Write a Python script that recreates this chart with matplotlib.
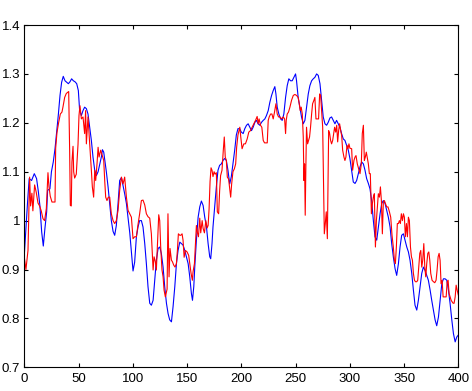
import matplotlib
matplotlib.use("Agg")
import matplotlib.pyplot as plt

# ---- data ----
blue_x = [0, 3, 4.5, 6.7, 9.2, 11.3, 12.9, 14.4, 16, 17.5, 19, 20.6, 21.5, 23.6, 25, 26.7, 28.3, 29.8,
          31.3, 32.9, 34.4, 35.9, 37.5, 39, 40.6, 42.1, 43.6, 45.2, 46.7, 48.3, 49.8,
          51, 52.6, 54.1, 55.6, 57.2, 58.7, 60.3, 61.8, 63.3, 64.9, 66.4, 68, 69.5, 71, 72, 73.2,
          74.1, 75.6, 77.2, 78.7, 80.2, 81.8, 83.3, 84.8, 86.4, 87.9, 89.5, 91, 92.5, 94.1, 95.6,
          97.2, 98.7, 100.2, 101.7,
          103.3, 104.8, 106.3, 107.9, 109.4, 111, 112.5, 114, 115.6, 117.1, 118.7, 120.2, 121.7,
          123.3, 124.8, 126.3, 127.9, 129.4, 131, 132.5, 134, 135.6, 137.1, 138.7, 140.2, 141.7,
          143.3, 144.8, 146.3, 147.9, 149.4, 151, 152.5, 154, 155, 156.2, 157.1, 158.6, 160.2,
          161.7, 163.2, 164.8, 166.3, 167.9, 169.4, 170.9, 171.8, 173, 173.9, 175.4, 177, 178.5,
          180, 181.6, 183.1, 184.6, 186.2, 187.7, 189.3, 190.8, 192.3, 193.9, 195.4, 196.9,
          198.5, 200, 201.7, 203.2, 204.8, 206.3, 207.8, 209.4, 210.9, 212.5, 214, 215.5, 217.1,
          218.6, 220.2, 221.7, 223.2, 224.8, 226.3, 227.9, 229.4, 230.9, 231.9, 233.1, 234.6,
          236.2, 237.7, 239.2, 240.8, 242.3, 243.8, 245.4, 246.9, 248.4, 250, 250.9, 252.4, 254,
          255.5, 257.1, 258.6, 260.1, 261.7, 263.2, 264.8, 266.3, 267.8, 269.4, 270.9, 272.5, 274,
          275.5, 277.1, 278.6, 280.1, 281.7, 283.2, 284.8, 286.3, 287.8, 289.4, 290.9, 292.4, 294,
          295.5, 297.1, 298.6,
          300.1, 301.7, 303.2, 304.8, 306.3, 307.8, 309.4, 310.9, 312.5, 314, 315.5, 317.1, 318.6,
          320.1, 321.7, 323.2, 324.8, 326.3, 327.9, 329.4, 330.9, 332.5, 334, 335.5, 337.1, 338.6,
          340.1, 341.7, 343.2, 344.8, 346.3, 347.8, 349.4, 350.9, 352.5, 354, 355.5, 357.1, 358.6,
          360.1, 361.7, 363.2, 364.8, 366.3, 367.8, 369.4, 370.9, 372.4, 374, 375.5, 377.1, 378.6,
          380.1, 381.7, 383.2, 384.8, 386.3, 387.8, 389.4, 390.9, 392.4, 394, 395.5, 397.1, 398.6,
          400]
blue_y = [0.93, 1.038, 1.086, 1.082, 1.096, 1.086, 1.06, 1.03, 0.977, 0.948, 0.984, 1.018, 1.062, 1.065,
          1.1, 1.12, 1.147, 1.18, 1.215, 1.256, 1.283, 1.295, 1.286, 1.283, 1.28, 1.284, 1.29, 1.286,
          1.284, 1.28, 1.266,
          1.225, 1.215, 1.225, 1.232, 1.229, 1.218, 1.19, 1.164, 1.13, 1.103, 1.092, 1.1, 1.115, 1.13,
          1.145, 1.14, 1.125, 1.1, 1.069, 1.035, 1.0, 0.978, 0.97, 0.99, 1.035, 1.082, 1.088, 1.072,
          1.055, 1.035, 1.005, 0.975, 0.935, 0.897, 0.915,
          0.967, 0.987, 1.0, 1.0, 0.987, 0.953, 0.912, 0.865, 0.831, 0.827, 0.837, 0.878, 0.919,
          0.943, 0.946, 0.933, 0.905, 0.865, 0.831, 0.81, 0.797, 0.793, 0.824, 0.865, 0.912, 0.939,
          0.956, 0.953, 0.95, 0.939, 0.926, 0.912, 0.885, 0.851, 0.837, 0.865, 0.905, 0.96, 1.007,
          1.028, 1.04, 1.031, 1.007, 0.987, 0.953, 0.926, 0.922, 0.953, 0.987, 1.028, 1.069, 1.103,
          1.113, 1.116, 1.123, 1.127, 1.123, 1.103, 1.075, 1.09, 1.116, 1.144, 1.175, 1.188,
          1.188, 1.181, 1.178, 1.188, 1.195, 1.198, 1.191, 1.184, 1.191, 1.201, 1.205, 1.198, 1.195,
          1.201, 1.205, 1.208, 1.215, 1.225, 1.242, 1.256, 1.266, 1.274, 1.259, 1.232, 1.218,
          1.208, 1.205, 1.218, 1.252, 1.276, 1.29, 1.286, 1.286, 1.293, 1.3, 1.286, 1.252, 1.232,
          1.212, 1.198, 1.205, 1.232, 1.259, 1.276, 1.286, 1.29, 1.293, 1.3, 1.297, 1.28, 1.246,
          1.212, 1.198, 1.195, 1.201, 1.21, 1.212, 1.205, 1.198, 1.205, 1.198, 1.191, 1.178, 1.167,
          1.164, 1.154, 1.144,
          1.127, 1.103, 1.079, 1.076, 1.082, 1.096, 1.11, 1.12, 1.116, 1.103, 1.086, 1.076, 1.065,
          1.041, 1.0, 0.967, 0.96, 0.987, 1.014, 1.035, 1.041, 1.035, 1.021, 1.007, 0.987, 0.953,
          0.926, 0.902, 0.888, 0.912, 0.946, 0.97, 0.973, 0.96, 0.946, 0.936, 0.919, 0.892, 0.858,
          0.827, 0.817, 0.837, 0.865, 0.892, 0.905, 0.898, 0.888, 0.878, 0.858, 0.837, 0.817, 0.797,
          0.785, 0.803, 0.837, 0.871, 0.881, 0.881, 0.878, 0.858, 0.831, 0.797, 0.769, 0.752, 0.762,
          0.766]

red_x = [0, 1.5, 3.4, 4.9, 5.8, 7, 7.9, 9.5, 11, 12.6, 14.1, 15.6, 17.2, 18.7, 20.3, 21.8, 22.7,
         23.9, 25.5, 27, 28.3, 28.9, 30.1, 31.6, 33.2, 34.7, 35.6, 37.2, 38.7, 40.9, 41.8, 42.4,
         43.3, 43.9, 44.9, 45.5, 46.4, 47.9, 49.5, 50.4, 51.3, 52.6, 54.1, 55.6, 56.5, 57.2, 58.7,
         60.3, 61.8, 62.7, 63.9, 64.9, 65.8, 67, 68, 68.9, 70.4, 71.9, 73.2, 74.1, 75, 76.2, 77.4,
         78.7, 80.2, 81.8, 83.3, 84.8, 86.4, 87.9, 89.5, 91, 92.5, 94.1, 95.6,
         97.1, 98.7, 100.2, 101.7, 103.3, 104.8, 106.3, 107.9, 109.4, 111, 112.5, 114, 115.6,
         117.1, 118, 118.7, 119.6, 120.8, 121.7, 122.6, 123.9, 124.8, 125.7, 126.9, 127.9, 128.8,
         130, 131.6, 132.4, 133.4, 134.3, 135.6, 136.5, 137.7, 138.9, 140.2, 141.1, 142, 143.3,
         144.2, 145.4, 146.3, 147.3, 148.5, 150, 151.5, 152.5, 153.7, 154.9, 155.5, 156.8, 157.7,
         158.6, 159.6, 160.5, 161.7, 162.6, 163.9, 164.8, 166, 167.3, 168.5, 169.4, 170.3, 171.2,
         172.1, 173, 173.9, 174.9, 175.8, 177, 177.9, 179.1, 180, 180.9, 182.2, 183.4, 184.3,
         185.2, 186.2, 187.1, 188.3, 189.3, 190.2, 191.1, 192.3, 193.6, 194.8, 195.7, 196.9,
         198.6, 199.5, 200.7, 202.3, 203.8, 205.4, 206.9, 208.4, 210, 211.5, 213.1, 214.6, 215.5,
         216.4, 217.7, 218.9, 220.2, 221.4, 222.6, 223.9, 224.8, 225.7, 227, 228.2, 229.4, 230.6,
         231.9, 233.1, 234.3, 235.6, 237.1, 238.7, 239.9, 240.8, 241.4, 242.3, 243.5, 244.8, 246.3,
         247.9, 249.4, 250.9, 252.4, 253.4, 254.3, 255.2, 256.2, 257.1, 257.7, 258.3, 258.9, 259.5,
         260.1, 261.1, 262, 262.9, 263.8, 264.8, 265.7, 266.9, 267.8, 268.8, 270, 271.2, 272.2,
         273.1, 274, 275, 275.9, 276.5, 277.4, 278.3, 279.3, 279.9, 280.5, 281.4, 282.3, 283.2,
         284.2, 285.1, 286, 287, 287.9, 288.8, 289.7, 290.6, 291.6, 292.5, 293.4, 294.6, 295.5,
         296.4, 297.4, 298.3, 299.2,
         300.1, 301.7, 302.6, 303.8, 304.8, 305.7, 306.9, 308.2, 309.4, 310.6, 311.5, 312.5, 313.4,
         314.3, 315.2, 316.2, 317.1, 318, 318.9, 319.9, 320.8, 321.7, 322.6, 323.6, 324.5, 325.4,
         326.3, 327.3, 328.2, 329.1, 330, 330.9, 331.9, 332.8, 334, 335.2, 336.5, 337.7, 338.9,
         340.1, 341.1, 342, 342.9, 343.8, 344.8, 345.7, 346.6, 347.5, 348.5, 349.4, 350.3, 351.2,
         352.2, 353.1, 354, 354.9, 355.9, 356.8, 357.7, 358.6, 359.6, 360.5, 361.7, 362.6, 363.5,
         364.5, 365.4, 366.3, 367.2, 368.2, 369.1, 370, 370.9, 371.9, 372.8, 373.7, 374.6, 375.8,
         377.1, 378.3, 379.5, 380.4, 381.4, 382.3, 383.2, 384.1, 385.1, 386, 386.9, 387.8, 388.8,
         389.7, 390.6, 391.5, 392.4, 393.4, 394.3, 395.2, 396.1, 397.1, 398, 398.9, 400]
red_y = [0.925, 0.9, 0.939, 1.089, 1.03, 1.056, 1.02, 1.073, 1.058, 1.036, 1.03, 1.02, 1.004, 1.0,
         1.025, 1.098, 1.07, 1.05, 1.038, 1.038, 1.038, 1.148, 1.18, 1.2, 1.218, 1.222, 1.232, 1.252,
         1.26, 1.264, 1.142, 1.031, 1.03, 1.12, 1.152, 1.1, 1.087, 1.095, 1.156, 1.215, 1.235, 1.208,
         1.212, 1.178, 1.225, 1.157, 1.212, 1.157, 1.103, 1.069, 1.048, 1.103, 1.082, 1.116, 1.15,
         1.13, 1.144, 1.133, 1.123, 1.082, 1.048, 1.041, 1.048, 1.048, 1.014, 1.0, 0.994, 1.0, 1.021,
         1.062, 1.089, 1.075, 1.089, 1.048, 1.021,
         1.014, 1.007, 0.963, 0.967, 0.967, 0.992, 1.014, 1.041, 1.042, 1.032, 1.014, 1.008, 1.005,
         0.973, 0.933, 0.899, 0.926, 0.916, 0.899, 0.946, 1.012, 1.0, 0.946, 0.899, 0.885, 0.858,
         0.844, 0.86, 1.014, 0.885, 0.943, 0.919, 0.916, 0.909, 0.905, 0.912, 0.939, 0.973, 0.97,
         0.97, 0.973, 0.96, 0.925, 0.939, 0.936, 0.929, 0.912, 0.892, 0.878, 0.895, 0.912, 0.95,
         0.99, 0.975, 0.967, 1.005, 0.975, 1.0, 0.984, 0.975, 1.0, 0.985, 0.99, 1.024, 1.08, 1.108,
         1.103, 1.09, 1.1, 1.095, 1.098, 1.018, 1.014, 1.06, 1.092, 1.103, 1.144, 1.171, 1.13, 1.123,
         1.089, 1.085, 1.065, 1.048, 1.075, 1.1, 1.106, 1.116, 1.15, 1.175,
         1.191, 1.171, 1.147, 1.157, 1.157, 1.167, 1.181, 1.184, 1.191, 1.198, 1.205, 1.213, 1.198,
         1.208, 1.195, 1.191, 1.164, 1.159, 1.159, 1.159, 1.205, 1.212, 1.218, 1.218, 1.208, 1.222,
         1.239, 1.218, 1.212, 1.212, 1.208, 1.212, 1.208, 1.178, 1.205, 1.218, 1.222, 1.232, 1.246,
         1.256, 1.258, 1.256, 1.252, 1.239, 1.225, 1.232, 1.218, 1.171, 1.082, 1.116, 1.011, 1.11,
         1.191, 1.157, 1.164, 1.171, 1.191, 1.218, 1.239, 1.246, 1.252, 1.208, 1.208, 1.208, 1.259,
         1.256, 1.225, 1.191, 1.055, 0.973, 0.994, 1.018, 0.963, 1.069, 1.184, 1.178, 1.164, 1.157,
         1.164, 1.178, 1.191, 1.181, 1.195, 1.161, 1.184, 1.198, 1.184, 1.174, 1.144, 1.13, 1.123,
         1.13, 1.154, 1.147, 1.157,
         1.148, 1.147, 1.103, 1.123, 1.13, 1.133, 1.116, 1.106, 1.096, 1.116, 1.178, 1.195, 1.123,
         1.13, 1.14, 1.127, 1.116, 1.096, 1.096, 1.014, 1.035, 1.048, 1.055, 0.946, 1.0, 1.028,
         1.055, 1.048, 1.069, 1.041, 0.973, 1.038, 1.041, 1.035, 1.028, 1.028, 1.018, 1.007, 0.97,
         0.946, 0.919, 0.912, 0.946, 0.994, 0.994, 1.0, 0.994, 1.014, 1.0, 1.014, 1.007, 0.967,
         0.994, 0.967, 1.007, 1.0, 0.946, 0.926, 0.919, 0.892, 0.878, 0.875, 0.875, 0.878, 0.905,
         0.933, 0.939, 0.905, 0.919, 0.953, 0.905, 0.885, 0.912, 0.933, 0.936, 0.919, 0.892, 0.878,
         0.875, 0.873, 0.878, 0.898, 0.926, 0.933, 0.919, 0.871, 0.878, 0.844, 0.844, 0.844, 0.844,
         0.875, 0.878, 0.851, 0.844, 0.837, 0.834, 0.831, 0.831, 0.844, 0.868, 0.858, 0.848]

x_ticks = [0, 50, 100, 150, 200, 250, 300, 350, 400]
x_tick_labels = ["0", "50", "100", "150", "200", "250", "300", "350", "400"]
y_ticks = [0.7, 0.8, 0.9, 1.0, 1.1, 1.2, 1.3, 1.4]
y_tick_labels = ["0.7", "0.8", "0.9", "1", "1.1", "1.2", "1.3", "1.4"]

# ---- figure ----
plt.rcParams['font.family'] = ['Liberation Sans', 'DejaVu Sans']
fig = plt.figure(figsize=(4.72, 3.91), dpi=100)
ax = fig.add_axes([0.0515, 0.0606, 0.9195, 0.8754])

ax.plot(blue_x, blue_y, color=(0, 0, 1), linewidth=0.8)
ax.plot(red_x, red_y, color=(1, 0, 0), linewidth=0.8)

ax.set_xlim(0, 400)
ax.set_ylim(0.7, 1.4)
ax.set_xticks(x_ticks)
ax.set_xticklabels(x_tick_labels)
ax.set_yticks(y_ticks)
ax.set_yticklabels(y_tick_labels)
ax.tick_params(direction='in', length=3.2, width=0.8, top=True, right=True,
               labelsize=9.5, colors='black')
ax.tick_params(axis='x', pad=4)
ax.tick_params(axis='y', pad=3)
for s in ax.spines.values():
    s.set_linewidth(0.8)
    s.set_color('black')

fig.savefig("out.png", dpi=100, facecolor='white')
